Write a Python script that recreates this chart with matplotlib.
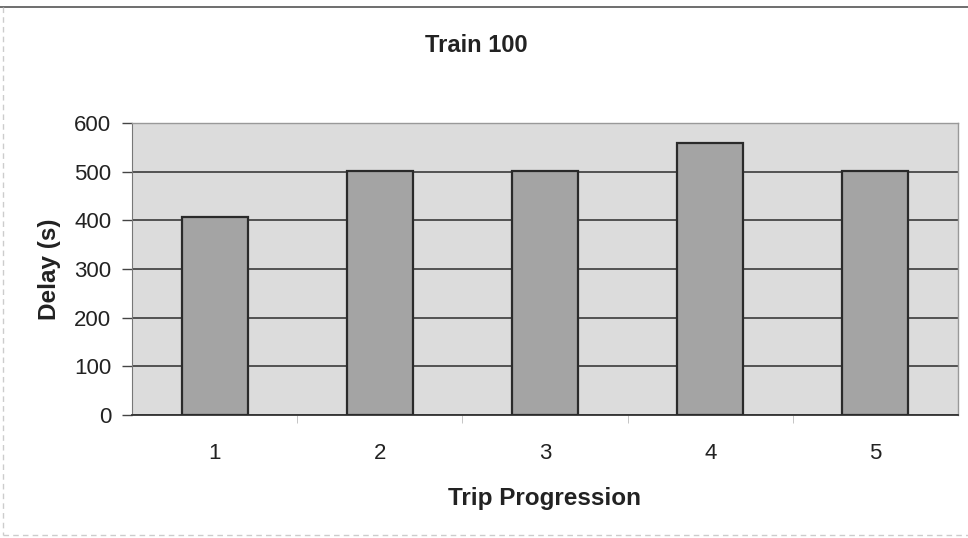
import matplotlib.pyplot as plt
from matplotlib.lines import Line2D

plt.rcParams['font.family'] = ['Liberation Sans', 'DejaVu Sans']

# Data
trips = [1, 2, 3, 4, 5]
delays = [407, 502, 502, 558, 502]
y_ticks = [0, 100, 200, 300, 400, 500, 600]

fig = plt.figure(figsize=(9.68, 5.38), dpi=100)
fig.patch.set_facecolor('white')
ax = fig.add_axes([132 / 968, 1 - 415 / 538, (958 - 132) / 968, (415 - 123) / 538])
ax.set_facecolor('#dcdcdc')

ax.bar(trips, delays, width=0.4, color='#a4a4a4', edgecolor='#2a2a2a',
       linewidth=1.6, zorder=3)

ax.set_xlim(0.5, 5.5)
ax.set_ylim(0, 600)
ax.set_yticks(y_ticks)
ax.yaxis.grid(True, color='#3a3a3a', linewidth=1.2, zorder=1)
ax.set_axisbelow(True)

ax.set_xticks(trips)
ax.set_xticks([1.5, 2.5, 3.5, 4.5], minor=True)
ax.tick_params(axis='x', which='major', length=0, pad=20, labelsize=16, colors='#222222')
ax.tick_params(axis='x', which='minor', length=6, color='#bbbbbb', direction='out')
ax.tick_params(axis='y', length=7, width=1.0, color='#444444', pad=8,
               labelsize=16, labelcolor='#222222')

for side in ['top', 'right']:
    ax.spines[side].set_color('#999999')
    ax.spines[side].set_linestyle((0, (1, 1)))
    ax.spines[side].set_linewidth(1.0)
ax.spines['left'].set_color('#777777')
ax.spines['left'].set_linestyle((0, (1, 1)))
ax.spines['bottom'].set_color('#333333')
ax.spines['bottom'].set_linewidth(1.3)

ax.set_xlabel('Trip Progression', fontsize=17.5, fontweight='bold', labelpad=17, color='#222222')
ax.set_ylabel('Delay (s)', fontsize=17.5, fontweight='bold', labelpad=9, color='#222222')
fig.text(476 / 968, 1 - 45 / 538, 'Train 100', ha='center', va='center',
         fontsize=17, fontweight='bold', color='#222222')

# Outer chart border
fig.add_artist(Line2D([0, 1], [1 - 7 / 538, 1 - 7 / 538], transform=fig.transFigure,
                      color='#555555', linewidth=1.2))
fig.add_artist(Line2D([3 / 968, 3 / 968], [1 - 7 / 538, 1 - 535 / 538], transform=fig.transFigure,
                      color='#cccccc', linewidth=1.0, linestyle=(0, (4, 3))))
fig.add_artist(Line2D([3 / 968, 1], [1 - 535 / 538, 1 - 535 / 538], transform=fig.transFigure,
                      color='#cccccc', linewidth=1.0, linestyle=(0, (4, 3))))

fig.savefig('out.png', dpi=100)
